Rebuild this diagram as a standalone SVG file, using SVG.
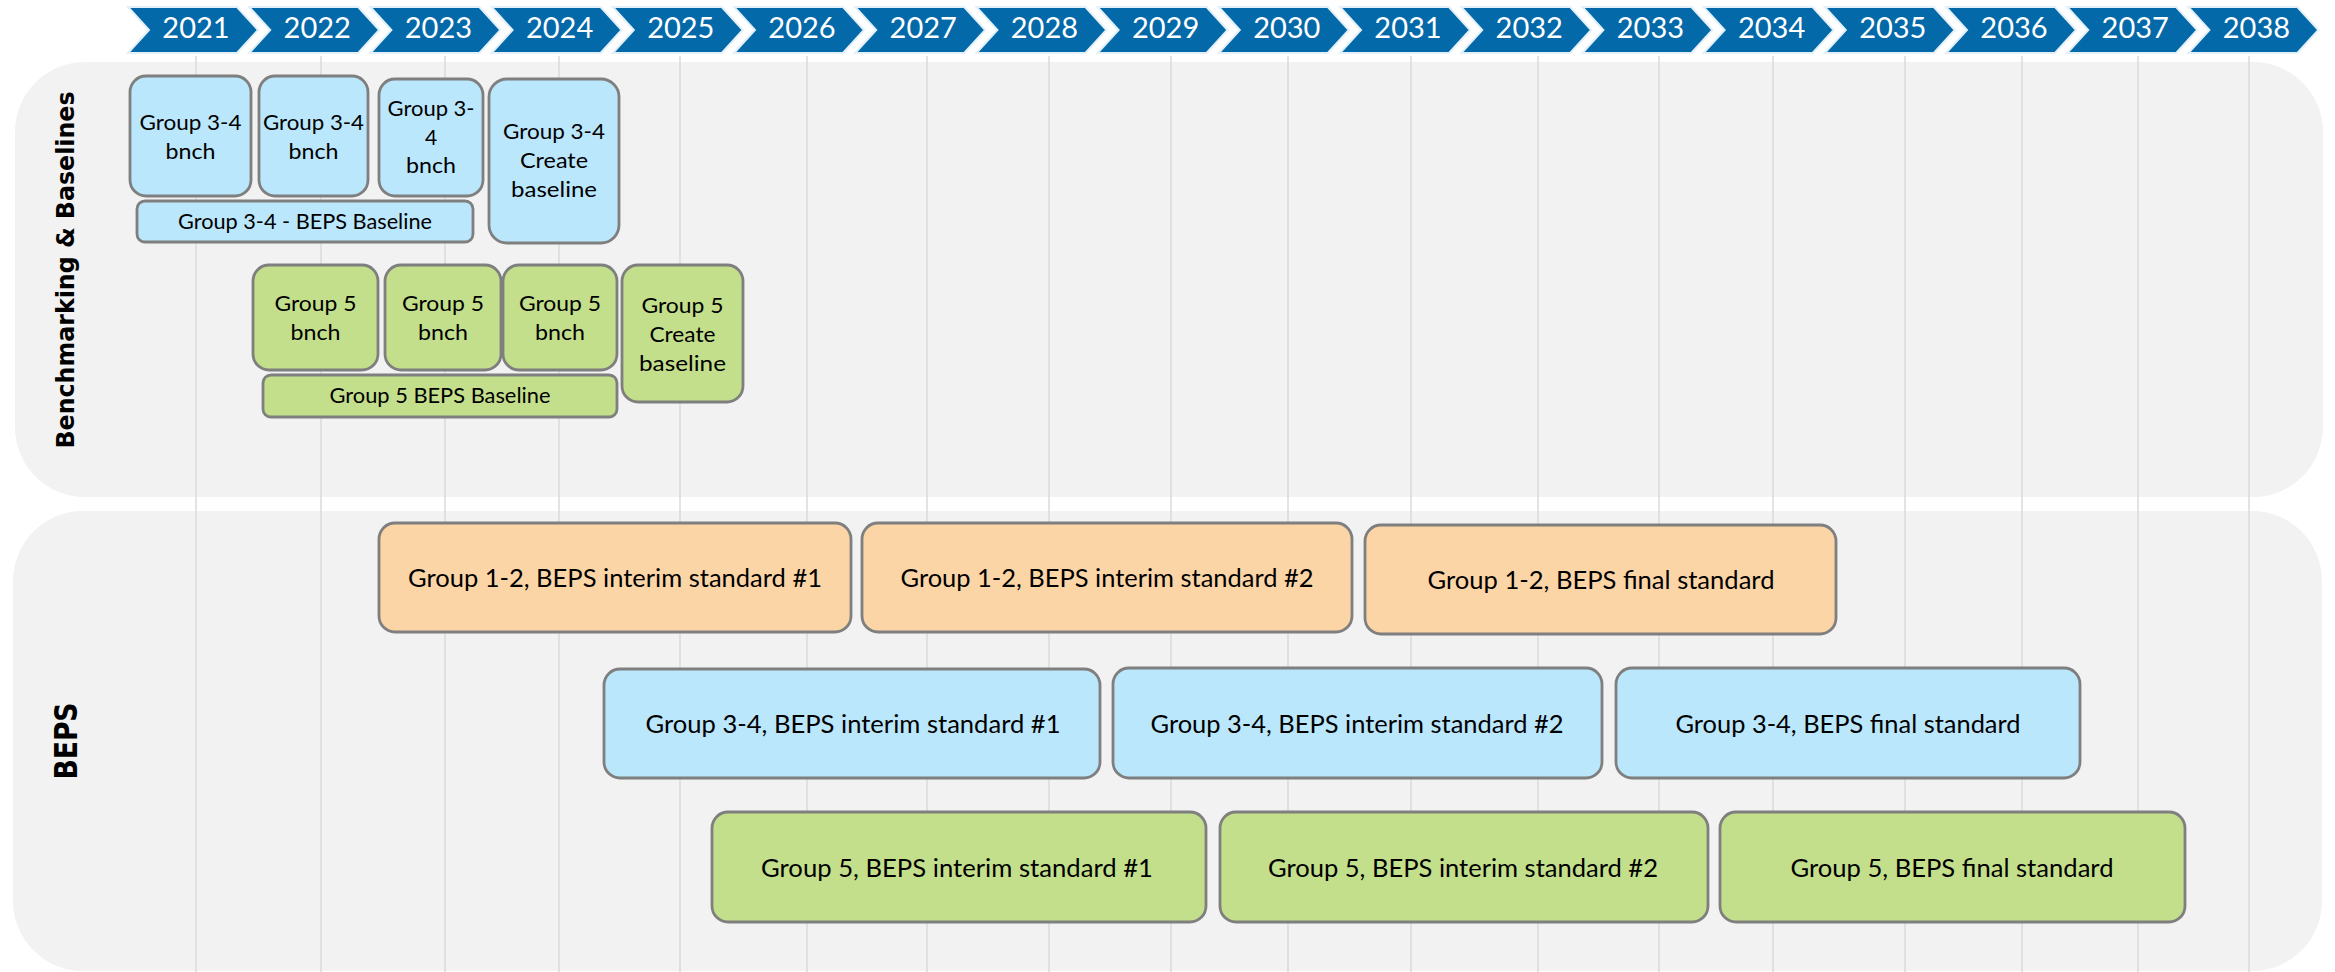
<svg xmlns="http://www.w3.org/2000/svg" width="2335" height="972" viewBox="0 0 2335 972">
<style>
.bg{fill:#ffffff}
.panel{fill:#f2f2f2}
.grid{stroke:#dadada;stroke-width:1.5}
.chev{fill:#0369a8;stroke:#e3f0f9;stroke-width:2}
.yr{font-family:Lato,"Liberation Sans",sans-serif;font-size:29px;fill:#ffffff;text-anchor:middle}
.lbl{font-family:"DejaVu Sans",Verdana,sans-serif;font-weight:bold;fill:#000;text-anchor:middle}
.box{stroke:#7f7f7f;stroke-width:2.8}
.blue{fill:#bbe7fc}
.green{fill:#c3df8b}
.peach{fill:#fcd5a7}
.s{font-family:Lato,"Liberation Sans",sans-serif;font-size:21px;fill:#000;text-anchor:middle}
.b{font-family:Lato,"Liberation Sans",sans-serif;font-size:25px;fill:#000;text-anchor:middle}
</style>
<defs>
<path id="chv" d="M0,7 L109,7 L130,30 L109,53 L0,53 L21,30 Z"/>
</defs>
<rect class="bg" x="0" y="0" width="2335" height="972"/>
<g id="panels">
<rect class="panel" x="15" y="62" width="2308" height="435" rx="70" ry="70"/>
<rect class="panel" x="13" y="511" width="2309" height="460" rx="70" ry="70"/>
</g>
<g id="gridlines">
<line class="grid" x1="196" y1="56" x2="196" y2="972"/>
<line class="grid" x1="321" y1="56" x2="321" y2="972"/>
<line class="grid" x1="445" y1="56" x2="445" y2="972"/>
<line class="grid" x1="559" y1="56" x2="559" y2="972"/>
<line class="grid" x1="680" y1="56" x2="680" y2="972"/>
<line class="grid" x1="807" y1="56" x2="807" y2="972"/>
<line class="grid" x1="927" y1="56" x2="927" y2="972"/>
<line class="grid" x1="1049" y1="56" x2="1049" y2="972"/>
<line class="grid" x1="1171" y1="56" x2="1171" y2="972"/>
<line class="grid" x1="1288" y1="56" x2="1288" y2="972"/>
<line class="grid" x1="1411" y1="56" x2="1411" y2="972"/>
<line class="grid" x1="1538" y1="56" x2="1538" y2="972"/>
<line class="grid" x1="1659" y1="56" x2="1659" y2="972"/>
<line class="grid" x1="1773" y1="56" x2="1773" y2="972"/>
<line class="grid" x1="1905" y1="56" x2="1905" y2="972"/>
<line class="grid" x1="2022" y1="56" x2="2022" y2="972"/>
<line class="grid" x1="2138" y1="56" x2="2138" y2="972"/>
<line class="grid" x1="2249" y1="56" x2="2249" y2="972"/>
</g>
<g id="timeline">
<g transform="translate(128,0)"><use href="#chv" class="chev"/><text class="yr" x="68" y="38">2021</text></g>
<g transform="translate(249.2,0)"><use href="#chv" class="chev"/><text class="yr" x="68" y="38">2022</text></g>
<g transform="translate(370.4,0)"><use href="#chv" class="chev"/><text class="yr" x="68" y="38">2023</text></g>
<g transform="translate(491.6,0)"><use href="#chv" class="chev"/><text class="yr" x="68" y="38">2024</text></g>
<g transform="translate(612.8,0)"><use href="#chv" class="chev"/><text class="yr" x="68" y="38">2025</text></g>
<g transform="translate(734,0)"><use href="#chv" class="chev"/><text class="yr" x="68" y="38">2026</text></g>
<g transform="translate(855.2,0)"><use href="#chv" class="chev"/><text class="yr" x="68" y="38">2027</text></g>
<g transform="translate(976.4,0)"><use href="#chv" class="chev"/><text class="yr" x="68" y="38">2028</text></g>
<g transform="translate(1097.6,0)"><use href="#chv" class="chev"/><text class="yr" x="68" y="38">2029</text></g>
<g transform="translate(1218.8,0)"><use href="#chv" class="chev"/><text class="yr" x="68" y="38">2030</text></g>
<g transform="translate(1340,0)"><use href="#chv" class="chev"/><text class="yr" x="68" y="38">2031</text></g>
<g transform="translate(1461.2,0)"><use href="#chv" class="chev"/><text class="yr" x="68" y="38">2032</text></g>
<g transform="translate(1582.4,0)"><use href="#chv" class="chev"/><text class="yr" x="68" y="38">2033</text></g>
<g transform="translate(1703.6,0)"><use href="#chv" class="chev"/><text class="yr" x="68" y="38">2034</text></g>
<g transform="translate(1824.8,0)"><use href="#chv" class="chev"/><text class="yr" x="68" y="38">2035</text></g>
<g transform="translate(1946,0)"><use href="#chv" class="chev"/><text class="yr" x="68" y="38">2036</text></g>
<g transform="translate(2067.2,0)"><use href="#chv" class="chev"/><text class="yr" x="68" y="38">2037</text></g>
<g transform="translate(2188.4,0)"><use href="#chv" class="chev"/><text class="yr" x="68" y="38">2038</text></g>
</g>
<g id="lane-labels">
<text class="lbl" font-size="25" textLength="357" lengthAdjust="spacingAndGlyphs" transform="translate(74,270) rotate(-90)">Benchmarking &amp; Baselines</text>
<text class="lbl" font-size="32" textLength="77" lengthAdjust="spacingAndGlyphs" transform="translate(77,741) rotate(-90)">BEPS</text>
</g>
<g id="g34-bnch-2021"><rect class="box blue" x="130" y="76" width="121" height="120" rx="16"/>
<text class="s" x="190.5" y="130" textLength="102" lengthAdjust="spacingAndGlyphs">Group 3-4</text>
<text class="s" x="190.5" y="159" textLength="50" lengthAdjust="spacingAndGlyphs">bnch</text></g>
<g id="g34-bnch-2022"><rect class="box blue" x="259" y="76" width="109" height="120" rx="16"/>
<text class="s" x="313.5" y="130" textLength="101" lengthAdjust="spacingAndGlyphs">Group 3-4</text>
<text class="s" x="313.5" y="159" textLength="50" lengthAdjust="spacingAndGlyphs">bnch</text></g>
<g id="g34-bnch-2023"><rect class="box blue" x="379" y="79" width="104" height="117" rx="16"/>
<text class="s" x="431" y="116" textLength="87" lengthAdjust="spacingAndGlyphs">Group 3-</text>
<text class="s" x="431" y="145">4</text>
<text class="s" x="431" y="173" textLength="50" lengthAdjust="spacingAndGlyphs">bnch</text></g>
<g id="g34-create-baseline"><rect class="box blue" x="489" y="79" width="130" height="164" rx="18"/>
<text class="s" x="554" y="139" textLength="102" lengthAdjust="spacingAndGlyphs">Group 3-4</text>
<text class="s" x="554" y="168" textLength="68" lengthAdjust="spacingAndGlyphs">Create</text>
<text class="s" x="554" y="197" textLength="86" lengthAdjust="spacingAndGlyphs">baseline</text></g>
<g id="g34-beps-baseline"><rect class="box blue" x="137" y="201" width="336" height="41" rx="8"/>
<text class="s" x="305" y="229" textLength="254" lengthAdjust="spacingAndGlyphs">Group 3-4 - BEPS Baseline</text></g>
<g id="g5-bnch-2022"><rect class="box green" x="253" y="265" width="125" height="105" rx="16"/>
<text class="s" x="315.5" y="311" textLength="82" lengthAdjust="spacingAndGlyphs">Group 5</text>
<text class="s" x="315.5" y="340" textLength="50" lengthAdjust="spacingAndGlyphs">bnch</text></g>
<g id="g5-bnch-2023"><rect class="box green" x="385" y="265" width="116" height="105" rx="16"/>
<text class="s" x="443" y="311" textLength="82" lengthAdjust="spacingAndGlyphs">Group 5</text>
<text class="s" x="443" y="340" textLength="50" lengthAdjust="spacingAndGlyphs">bnch</text></g>
<g id="g5-bnch-2024"><rect class="box green" x="503" y="265" width="114" height="105" rx="16"/>
<text class="s" x="560" y="311" textLength="82" lengthAdjust="spacingAndGlyphs">Group 5</text>
<text class="s" x="560" y="340" textLength="50" lengthAdjust="spacingAndGlyphs">bnch</text></g>
<g id="g5-create-baseline"><rect class="box green" x="622" y="265" width="121" height="137" rx="16"/>
<text class="s" x="682.5" y="313" textLength="82" lengthAdjust="spacingAndGlyphs">Group 5</text>
<text class="s" x="682.5" y="342" textLength="66" lengthAdjust="spacingAndGlyphs">Create</text>
<text class="s" x="682.5" y="371" textLength="87" lengthAdjust="spacingAndGlyphs">baseline</text></g>
<g id="g5-beps-baseline"><rect class="box green" x="263" y="375" width="354" height="42" rx="8"/>
<text class="s" x="440" y="403" textLength="221" lengthAdjust="spacingAndGlyphs">Group 5 BEPS Baseline</text></g>
<g id="g12-interim-1"><rect class="box peach" x="379" y="523" width="472" height="109" rx="16"/>
<text class="b" x="615" y="587" textLength="414" lengthAdjust="spacingAndGlyphs">Group 1-2, BEPS interim standard #1</text></g>
<g id="g12-interim-2"><rect class="box peach" x="862" y="523" width="490" height="109" rx="16"/>
<text class="b" x="1107" y="587" textLength="413" lengthAdjust="spacingAndGlyphs">Group 1-2, BEPS interim standard #2</text></g>
<g id="g12-final"><rect class="box peach" x="1365" y="525" width="471" height="109" rx="16"/>
<text class="b" x="1601" y="589" textLength="347" lengthAdjust="spacingAndGlyphs">Group 1-2, BEPS final standard</text></g>
<g id="g34-interim-1"><rect class="box blue" x="604" y="669" width="496" height="109" rx="16"/>
<text class="b" x="853" y="733" textLength="415" lengthAdjust="spacingAndGlyphs">Group 3-4, BEPS interim standard #1</text></g>
<g id="g34-interim-2"><rect class="box blue" x="1113" y="668" width="489" height="110" rx="16"/>
<text class="b" x="1357" y="733" textLength="413" lengthAdjust="spacingAndGlyphs">Group 3-4, BEPS interim standard #2</text></g>
<g id="g34-final"><rect class="box blue" x="1616" y="668" width="464" height="110" rx="16"/>
<text class="b" x="1848" y="733" textLength="345" lengthAdjust="spacingAndGlyphs">Group 3-4, BEPS final standard</text></g>
<g id="g5-interim-1"><rect class="box green" x="712" y="812" width="494" height="110" rx="16"/>
<text class="b" x="957" y="877" textLength="392" lengthAdjust="spacingAndGlyphs">Group 5, BEPS interim standard #1</text></g>
<g id="g5-interim-2"><rect class="box green" x="1220" y="812" width="488" height="110" rx="16"/>
<text class="b" x="1463" y="877" textLength="390" lengthAdjust="spacingAndGlyphs">Group 5, BEPS interim standard #2</text></g>
<g id="g5-final"><rect class="box green" x="1720" y="812" width="465" height="110" rx="16"/>
<text class="b" x="1952" y="877" textLength="323" lengthAdjust="spacingAndGlyphs">Group 5, BEPS final standard</text></g>
<g id="connectors"/>
</svg>
